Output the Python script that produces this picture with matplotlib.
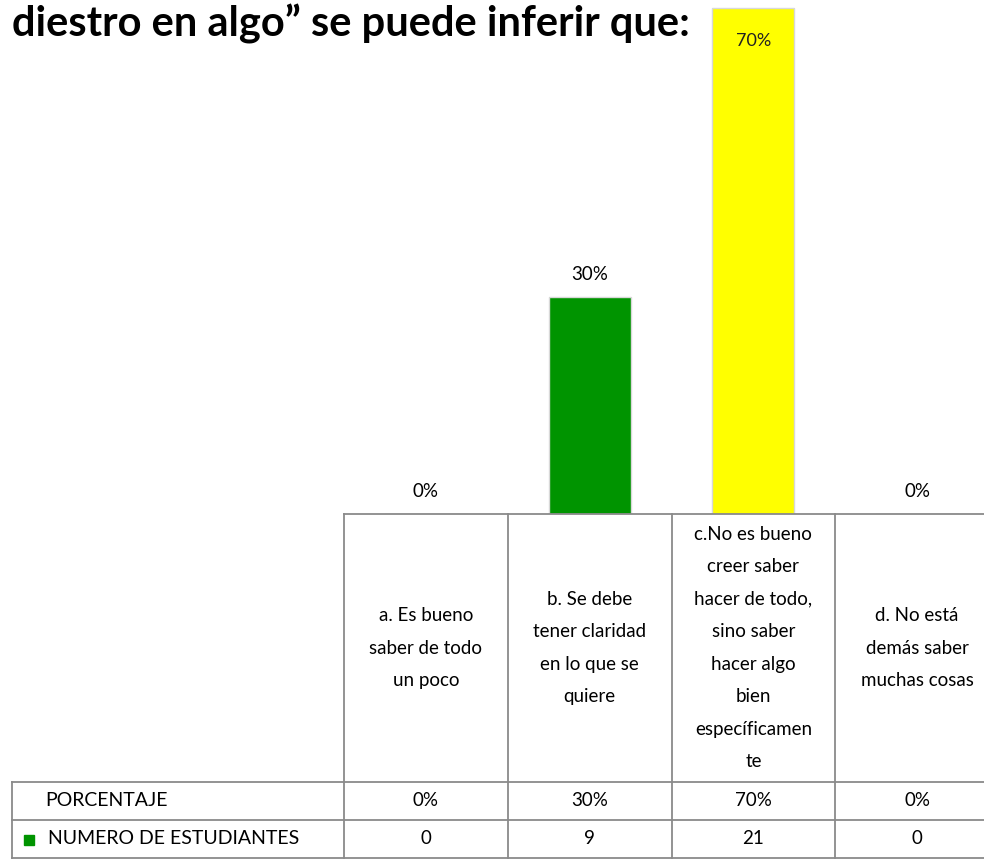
import matplotlib.pyplot as plt
from matplotlib.transforms import blended_transform_factory

categories = ['a. Es bueno\nsaber de todo\nun poco',
              'b. Se debe\ntener claridad\nen lo que se\nquiere',
              'c.No es bueno\ncreer saber\nhacer de todo,\nsino saber\nhacer algo\nbien\nespecíficamen\nte',
              'd. No está\ndemás saber\nmuchas cosas']
porcentaje = [0, 30, 70, 0]
estudiantes = [0, 9, 21, 0]
bar_colors = ['#009400', '#009400', '#FFFF00', '#009400']
row_labels = ['PORCENTAJE', 'NUMERO DE ESTUDIANTES']
title = 'diestro en algo\u201d se puede inferir que:'

W, H = 984, 860
plt.rcParams['font.family'] = ['Lato', 'DejaVu Sans']

fig = plt.figure(figsize=(W / 100, H / 100), dpi=100)
# plot area in pixels: x 344..999, y 0..514 (zero line at y=514)
ax = fig.add_axes([344 / W, (H - 514) / H, 655 / W, 514 / H])
px_per_pct = (514 - 297) / 30.0
ax.set_xlim(-0.5, 3.5)
ax.set_ylim(0, 514 / px_per_pct)
ax.axis('off')

x = list(range(len(categories)))
bars = ax.bar(x, porcentaje, width=0.5, color=bar_colors, edgecolor='#d8d8d8', linewidth=1)

ymax = ax.get_ylim()[1]
for xi, v in zip(x, porcentaje):
    if v > ymax - 4:
        ax.annotate(f'{v}%', (xi, v), xytext=(0, -24), textcoords='offset points',
                    ha='center', va='center', fontsize=13, color='#222222')
    else:
        ax.annotate(f'{v}%', (xi, v), xytext=(0, 16), textcoords='offset points',
                    ha='center', va='center', fontsize=13.5)

# data table drawn under the plot
tr = blended_transform_factory(ax.transData, ax.transAxes)
col_w = 655 / 4


def ya(py):
    return (514 - py) / 514


def xd(px):
    return -0.5 + (px - 344) / col_w


line_kw = dict(transform=tr, clip_on=False, color='#8a8a8a', lw=1.3)
x_left = xd(12)
ax.plot([-0.5, 3.5], [ya(514), ya(514)], **line_kw)
for py in [782, 820, 858]:
    ax.plot([x_left, 3.5], [ya(py), ya(py)], **line_kw)
for i in range(5):
    ax.plot([i - 0.5, i - 0.5], [ya(514), ya(858)], **line_kw)
ax.plot([x_left, x_left], [ya(782), ya(858)], **line_kw)

txt_size = 13.5
line_h = 32.5
for xi, lab in zip(x, categories):
    lines = lab.split('\n')
    n = len(lines)
    for k, ln in enumerate(lines):
        py = 648 + (k - (n - 1) / 2) * line_h
        ax.text(xi, ya(py), ln, transform=tr, ha='center', va='center',
                fontsize=txt_size, clip_on=False)

for xi, v, n in zip(x, porcentaje, estudiantes):
    ax.text(xi, ya(801), f'{v}%', transform=tr, ha='center', va='center', fontsize=txt_size)
    ax.text(xi, ya(839), str(n), transform=tr, ha='center', va='center', fontsize=txt_size)

ax.text(xd(45), ya(801), row_labels[0], transform=tr, ha='left', va='center', fontsize=14)
ax.text(xd(48), ya(839), row_labels[1], transform=tr, ha='left', va='center', fontsize=14)
ax.plot([xd(29)], [ya(840)], marker='s', ms=6.5, color='#009400', transform=tr, clip_on=False)

fig.text(12 / W, 1 - 36 / H, title, ha='left', va='baseline', fontsize=30, fontweight='bold')

fig.savefig('out.png', dpi=100)
